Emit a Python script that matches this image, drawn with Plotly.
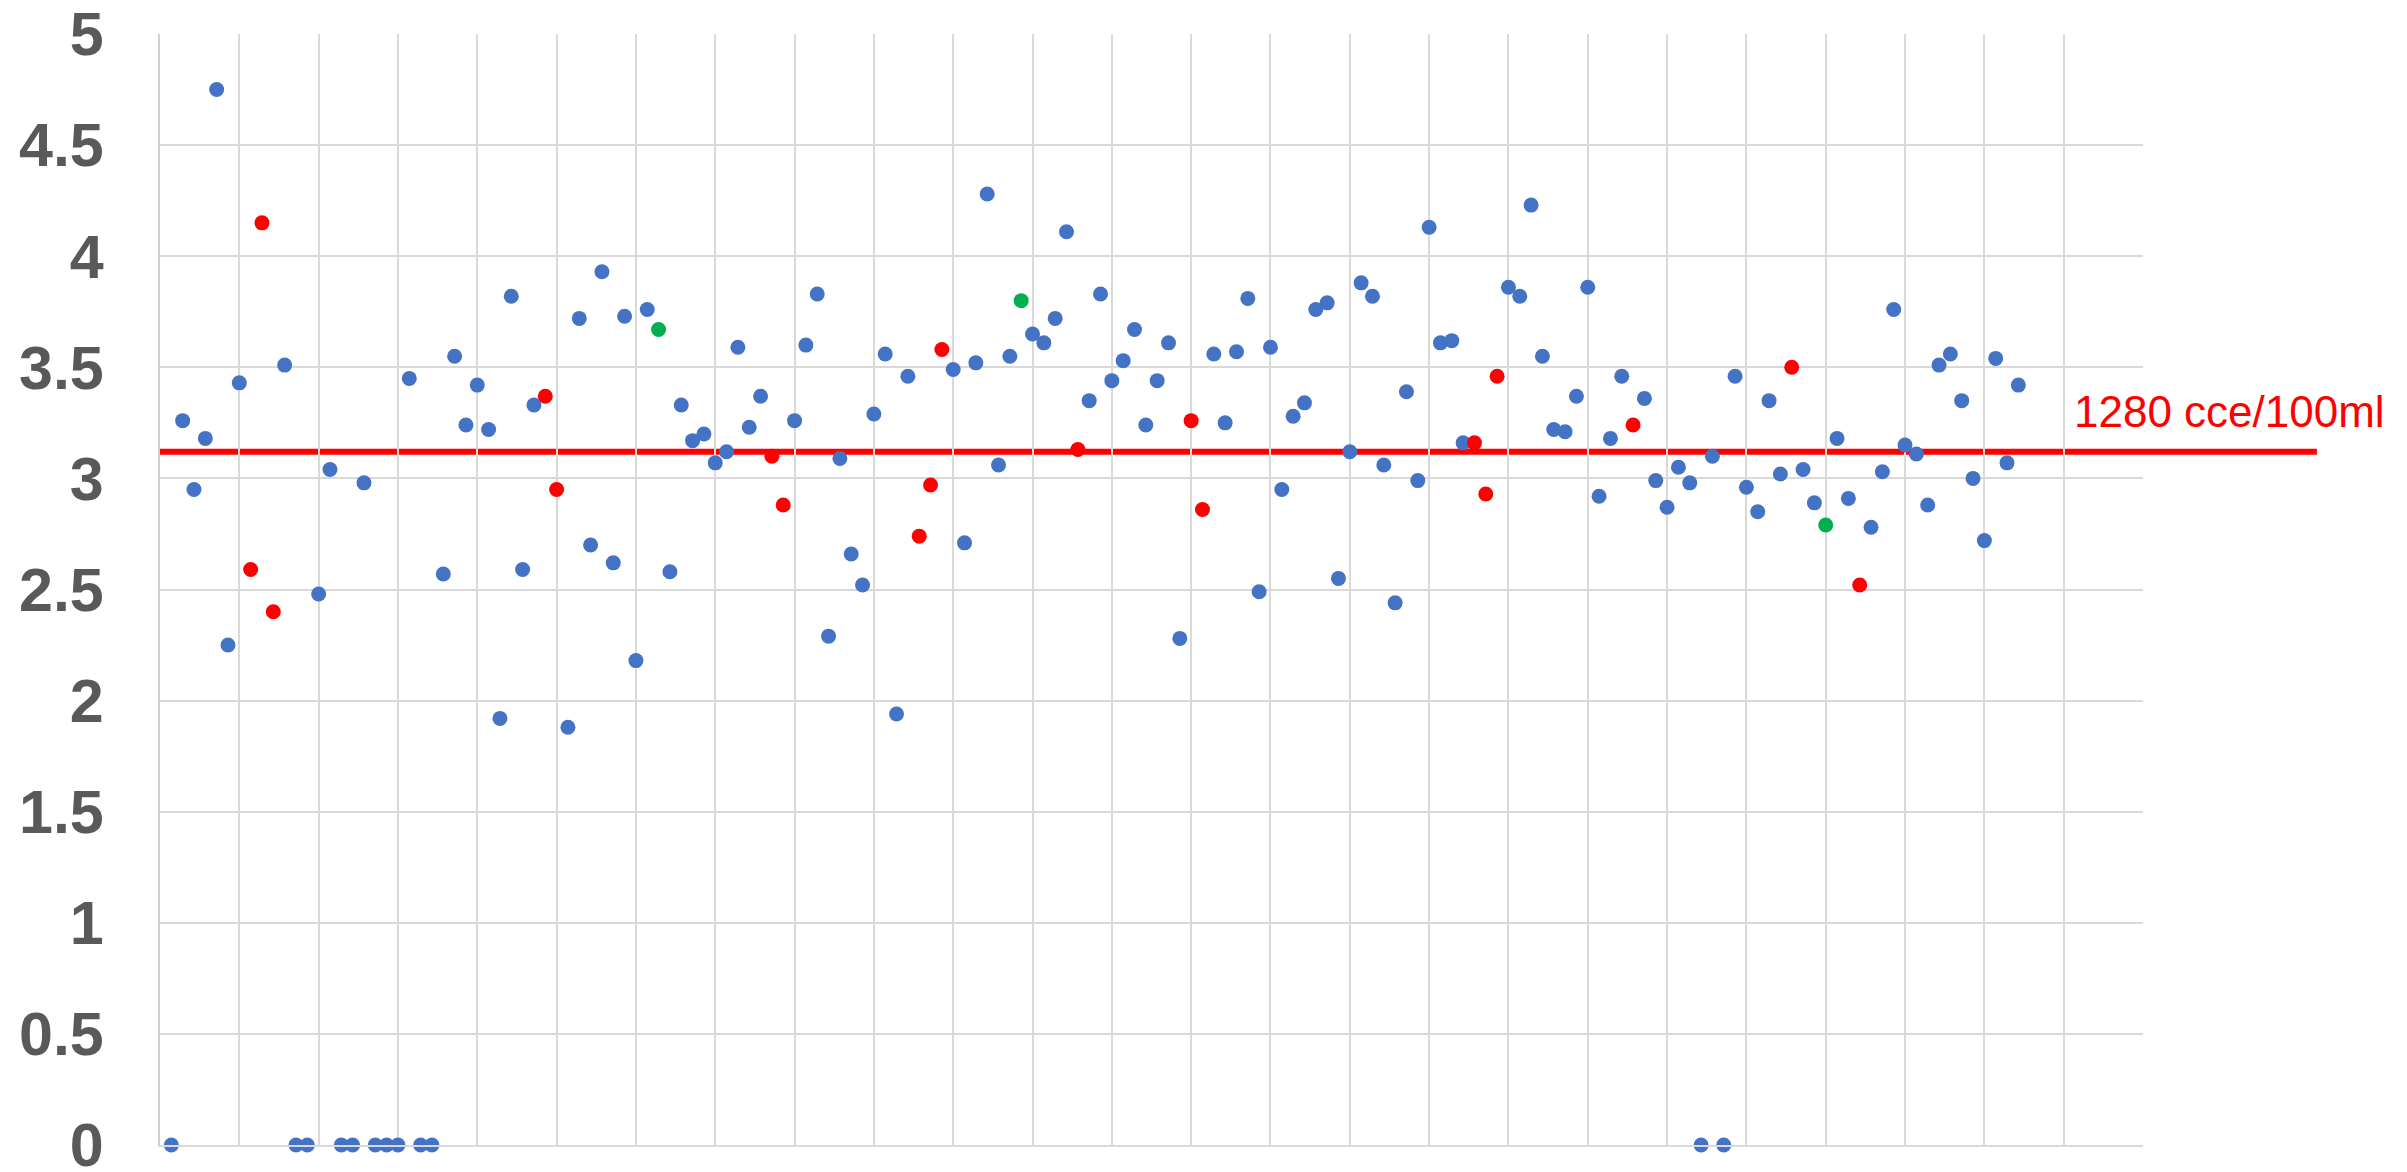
import plotly.graph_objects as go

# ---- data ----
values = [
    0, 3.26, 2.95, 3.18, 4.75, 2.25, 3.43, 2.59, 4.15, 2.40,
    3.51, 0, 0, 2.48, 3.04, 0, 0, 2.98, 0, 0,
    0, 3.45, 0, 0, 2.57, 3.55, 3.24, 3.42, 3.22, 1.92,
    3.82, 2.59, 3.33, 3.37, 2.95, 1.88, 3.72, 2.70, 3.93, 2.62,
    3.73, 2.18, 3.76, 3.67, 2.58, 3.33, 3.17, 3.20, 3.07, 3.12,
    3.59, 3.23, 3.37, 3.10, 2.88, 3.26, 3.60, 3.83, 2.29, 3.09,
    2.66, 2.52, 3.29, 3.56, 1.94, 3.46, 2.74, 2.97, 3.58, 3.49,
    2.71, 3.52, 4.28, 3.06, 3.55, 3.80, 3.65, 3.61, 3.72, 4.11,
    3.13, 3.35, 3.83, 3.44, 3.53, 3.67, 3.24, 3.44, 3.61, 2.28,
    3.26, 2.86, 3.56, 3.25, 3.57, 3.81, 2.49, 3.59, 2.95, 3.28,
    3.34, 3.76, 3.79, 2.55, 3.12, 3.88, 3.82, 3.06, 2.44, 3.39,
    2.99, 4.13, 3.61, 3.62, 3.16, 3.16, 2.93, 3.46, 3.86, 3.82,
    4.23, 3.55, 3.22, 3.21, 3.37, 3.86, 2.92, 3.18, 3.46, 3.24,
    3.36, 2.99, 2.87, 3.05, 2.98, 0, 3.10, 0, 3.46, 2.96,
    2.85, 3.35, 3.02, 3.50, 3.04, 2.89, 2.79, 3.18, 2.91, 2.52,
    2.78, 3.03, 3.76, 3.15, 3.11, 2.88, 3.51, 3.56, 3.35, 3.00,
    2.72, 3.54, 3.07, 3.42,
]
sample_no = list(range(1, len(values) + 1))
red_samples = [8, 9, 10, 34, 35, 54, 55, 67, 68, 69, 81, 91, 92,
               116, 117, 118, 130, 144, 150]
green_samples = [44, 76, 147]

threshold = 3.12
threshold_label = "1280 cce/100ml"
y_ticks = [0, 0.5, 1, 1.5, 2, 2.5, 3, 3.5, 4, 4.5, 5]
y_tick_text = ["0", "0.5", "1", "1.5", "2", "2.5", "3", "3.5", "4", "4.5", "5"]

BLUE, RED, GREEN = "#4472C4", "#FF0000", "#00B050"

def group(samples_filter):
    xs, ys = [], []
    for s, v in zip(sample_no, values):
        if samples_filter(s):
            xs.append(s)
            ys.append(v)
    return xs, ys

special = set(red_samples) | set(green_samples)
bx, by = group(lambda s: s not in special)
rx, ry = group(lambda s: s in red_samples)
gx, gy = group(lambda s: s in green_samples)

fig = go.Figure()
for xs, ys, col in [(bx, by, BLUE), (rx, ry, RED), (gx, gy, GREEN)]:
    fig.add_trace(go.Scatter(
        x=xs, y=ys, mode="markers", cliponaxis=False,
        marker=dict(size=15, color=col, line=dict(width=0)),
        showlegend=False, hoverinfo="x+y",
    ))

fig.add_shape(type="line", xref="paper", yref="y",
              x0=-0.001, x1=1.0877, y0=threshold, y1=threshold,
              line=dict(color=RED, width=6), layer="between")

fig.add_annotation(xref="paper", yref="y", x=0.9640, y=threshold,
                   xanchor="left", yanchor="middle", yshift=40,
                   text=threshold_label, showarrow=False,
                   font=dict(family="Liberation Sans, Arial", size=44, color=RED))

grid = "#D9D9D9"
fig.update_layout(
    width=2407, height=1172,
    margin=dict(l=160, r=264, t=34, b=27, autoexpand=False),
    paper_bgcolor="white", plot_bgcolor="white",
    xaxis=dict(range=[0, 175], dtick=7, tick0=0, showticklabels=False,
               showgrid=True, gridcolor=grid, gridwidth=1.5,
               zeroline=False, showline=True, linecolor=grid, linewidth=1.5,
               ticks="", automargin=False),
    yaxis=dict(range=[0, 5], tickvals=y_ticks, ticktext=y_tick_text,
               showgrid=True, gridcolor=grid, gridwidth=1.5,
               zeroline=False, showline=True, linecolor="#CFCFCF", linewidth=2,
               ticks="", ticklabelstandoff=42, automargin=False,
               ticklabeloverflow="allow",
               tickfont=dict(family="Liberation Sans, Arial", size=61,
                             color="#595959", weight="bold")),
)

fig.write_html("out.html")
